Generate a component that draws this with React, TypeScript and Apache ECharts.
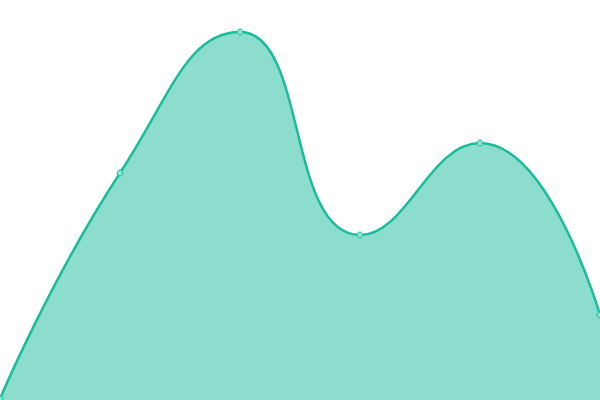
import { useEffect, useRef } from 'react';
import * as echarts from 'echarts';

const categories = ['A', 'B', 'C', 'D', 'E', 'F'];
const values = [1, 227, 368, 165, 257, 85];

export default function App() {
  const chartRef = useRef<HTMLDivElement | null>(null);

  useEffect(() => {
    const element = chartRef.current;
    if (!element) {
      return;
    }

    const chart = echarts.init(element, null, { renderer: 'svg' });
    chart.setOption({
      animation: false,
      grid: { left: 0, right: 0, top: 0, bottom: 0 },
      xAxis: {
        type: 'category',
        data: categories,
        boundaryGap: false,
        show: false,
      },
      yAxis: {
        type: 'value',
        min: 0,
        max: 400,
        show: false,
      },
      series: [
        {
          type: 'line',
          data: values,
          smooth: true,
          symbol: 'circle',
          symbolSize: 6,
          lineStyle: { color: '#1abc9c', width: 2.5 },
          itemStyle: {
            color: '#8ce0d0',
            borderColor: '#1abc9c',
            borderWidth: 1,
          },
          areaStyle: { color: '#1abc9c', opacity: 0.5 },
        },
      ],
    });

    return () => {
      chart.dispose();
    };
  }, []);

  return (
    <div
      ref={chartRef}
      style={{ position: 'fixed', left: 0, top: 0, width: 600, height: 400 }}
    />
  );
}
